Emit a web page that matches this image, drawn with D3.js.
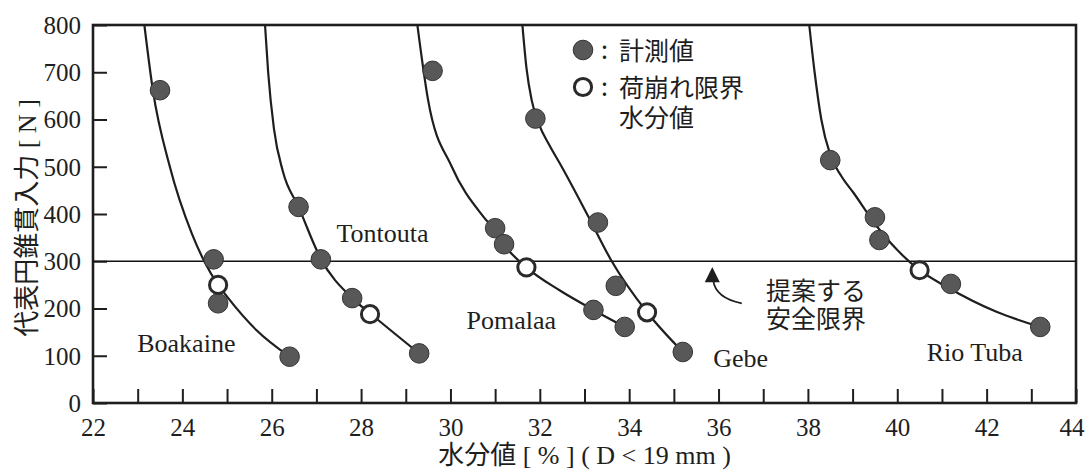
<!DOCTYPE html>
<html><head><meta charset="utf-8">
<script src="https://cdn.jsdelivr.net/npm/d3@7"></script>
<style>body{margin:0;background:#fff}svg{display:block}</style>
</head><body><svg id="c" width="1085" height="470"></svg>
<script>
// ---- data ----
const seriesNames = ["Boakaine", "Tontouta", "Pomalaa", "Gebe", "Rio Tuba"];
const measuredX = [[23.5, 24.7, 24.8, 26.4], [26.6, 27.1, 27.8, 29.3], [29.6, 31.0, 31.2, 33.2, 33.9], [31.9, 33.3, 33.7, 35.2], [38.5, 39.5, 39.6, 41.2, 43.2]];
const measuredY = [[662, 304, 211, 98], [415, 304, 222, 105], [703, 370, 336, 197, 161], [602, 382, 248, 108], [514, 393, 345, 252, 161]];
const limitX = [24.8, 28.2, 31.7, 34.4, 40.5];
const limitY = [250, 188, 287, 192, 281];
const curveX = [
  [23.15, 23.34, 23.72, 24.21, 24.49, 24.8, 25.0, 25.66, 26.4],
  [25.85, 25.92, 26.05, 26.25, 26.6, 27.1, 27.8, 28.2, 29.3],
  [29.26, 29.5, 30.03, 30.74, 31.0, 31.2, 31.7, 32.45, 33.2, 33.9],
  [31.61, 31.7, 31.82, 31.98, 32.2, 32.49, 33.09, 33.61, 34.4, 35.2],
  [38.03, 38.15, 38.3, 38.5, 38.75, 39.02, 39.55, 40.5, 41.1, 42.22, 43.2]
];
const curveY = [
  [800, 662, 500, 359, 300, 250, 225, 154, 98],
  [800, 700, 580, 490, 415, 305, 222, 190, 105],
  [800, 641, 500, 394, 365, 335, 287, 238, 197, 161],
  [800, 710, 640, 590, 548, 500, 394, 300, 192, 108],
  [800, 700, 600, 525, 480, 445, 373, 281, 246, 193, 161]
];
const safetyLimit = 300;
const xTickValues = d3.range(22, 45, 1);
const yTickValues = d3.range(0, 801, 100);
const legendLabels = ["計測値", "荷崩れ限界", "水分値"];
const safetyLabel = ["提案する", "安全限界"];

// ---- layout ----
const L = 93, R = 1076, T = 25, B = 403;
const svg = d3.select("#c");
const x = d3.scaleLinear().domain([22, 44]).range([L, R]);
const y = d3.scaleLinear().domain([0, 800]).range([B, T]);
const ink = "#1e1e1e";
const serif = "'Liberation Serif','Times New Roman',serif";
const cjk = "'Noto Sans CJK JP','Noto Sans CJK SC',sans-serif";

// axes
const xAxis = d3.axisBottom(x).tickValues(xTickValues).tickSize(-14).tickPadding(0)
  .tickFormat(d => d % 2 === 0 ? d : "");
const gx = svg.append("g").attr("transform", `translate(0,${B})`).call(xAxis)
  .attr("font-family", serif).attr("font-size", 25);
gx.select(".domain").remove();
gx.selectAll(".tick line").attr("stroke", ink).attr("stroke-width", 2);
gx.selectAll(".tick text").attr("y", 33).attr("dy", 0).attr("fill", ink)
  .attr("font-family", serif).attr("font-size", 25);
gx.selectAll(".tick text").filter(d => d === 44).attr("text-anchor", "end").attr("x", 8);

const yAxis = d3.axisLeft(y).tickValues(yTickValues).tickSize(-14).tickPadding(12);
const gy = svg.append("g").attr("transform", `translate(${L},0)`).call(yAxis)
  .attr("font-family", serif).attr("font-size", 25);
gy.select(".domain").remove();
gy.selectAll(".tick line").attr("stroke", ink).attr("stroke-width", 2);
gy.selectAll(".tick text").attr("dy", "0.33em").attr("fill", ink)
  .attr("font-family", serif).attr("font-size", 25);

// frame
svg.append("rect").attr("x", L).attr("y", T).attr("width", R - L).attr("height", B - T)
  .attr("fill", "none").attr("stroke", ink).attr("stroke-width", 2.6);

// safety line
svg.append("line").attr("x1", x(22)).attr("x2", x(44)).attr("y1", y(safetyLimit)).attr("y2", y(safetyLimit))
  .attr("stroke", "#111").attr("stroke-width", 1.4);

// curves
const line = d3.line().x(d => x(d[0])).y(d => y(d[1])).curve(d3.curveMonotoneX);
curveX.forEach((cx, i) => {
  const pts = cx.map((v, j) => [v, curveY[i][j]]);
  svg.append("path").attr("d", line(pts)).attr("fill", "none").attr("stroke", ink).attr("stroke-width", 2.2);
});

// measured points
measuredX.forEach((mx, i) => {
  svg.append("g").selectAll("circle").data(mx.map((v, j) => [v, measuredY[i][j]])).join("circle")
    .attr("cx", d => x(d[0])).attr("cy", d => y(d[1])).attr("r", 9.8)
    .attr("fill", "#585858").attr("stroke", "#333").attr("stroke-width", 1);
});
// limit points
svg.append("g").selectAll("circle").data(limitX.map((v, j) => [v, limitY[j]])).join("circle")
  .attr("cx", d => x(d[0])).attr("cy", d => y(d[1])).attr("r", 8.6)
  .attr("fill", "#fff").attr("stroke", "#2a2a2a").attr("stroke-width", 3);

// series labels
const labelPos = [[22.99, 108.6], [27.45, 340.7], [30.36, 156], [35.88, 76.8], [40.66, 89.5]];
seriesNames.forEach((n, i) => {
  svg.append("text").attr("x", x(labelPos[i][0])).attr("y", y(labelPos[i][1])).text(n)
    .attr("fill", ink).attr("font-family", serif).attr("font-size", 26);
});

// legend
svg.append("circle").attr("cx", 583).attr("cy", 50).attr("r", 9.8).attr("fill", "#585858").attr("stroke", "#333");
svg.append("circle").attr("cx", 583).attr("cy", 87).attr("r", 8.6).attr("fill", "#fff").attr("stroke", "#2a2a2a").attr("stroke-width", 3);
[[":", 601, 59], [":", 601, 96]].forEach(c => svg.append("text").attr("x", c[1]).attr("y", c[2]).text(c[0])
  .attr("fill", ink).attr("font-family", cjk).attr("font-size", 25));
[[legendLabels[0], 60], [legendLabels[1], 97], [legendLabels[2], 127]].forEach(t =>
  svg.append("text").attr("x", 619).attr("y", t[1]).text(t[0]).attr("fill", ink)
    .attr("font-family", cjk).attr("font-size", 25));

// safety annotation
svg.append("text").attr("x", 766).attr("y", 300).text(safetyLabel[0]).attr("fill", ink)
  .attr("font-family", cjk).attr("font-size", 25);
svg.append("text").attr("x", 766).attr("y", 328).text(safetyLabel[1]).attr("fill", ink)
  .attr("font-family", cjk).attr("font-size", 25);
const aStart = [36.52, 211], aEnd = [35.88, 260], aTip = [35.86, 288];
svg.append("path")
  .attr("d", `M${x(aStart[0])},${y(aStart[1])} Q${x(35.93)},${y(222)} ${x(aEnd[0])},${y(aEnd[1])}`)
  .attr("fill", "none").attr("stroke", ink).attr("stroke-width", 1.7);
svg.append("path")
  .attr("d", `M${x(aTip[0])},${y(aTip[1])} L${x(aTip[0]) - 7.5},${y(aEnd[1]) + 2} L${x(aTip[0]) + 7.5},${y(aEnd[1]) + 2} Z`)
  .attr("fill", ink);

// axis titles
const xt = svg.append("text").attr("x", (L + R) / 2).attr("y", 464).attr("text-anchor", "middle").attr("fill", ink)
  .attr("font-size", 26);
xt.append("tspan").attr("font-family", cjk).text("水分値");
xt.append("tspan").attr("font-family", serif).text(" [ % ] ( D < 19 mm )");
const yt = svg.append("text").attr("transform", `translate(36,${(T + B) / 2 + 4}) rotate(-90)`)
  .attr("text-anchor", "middle").attr("fill", ink).attr("font-size", 26);
yt.append("tspan").attr("font-family", cjk).text("代表円錐貫入力");
yt.append("tspan").attr("font-family", serif).text(" [ N ]");
</script></body></html>
